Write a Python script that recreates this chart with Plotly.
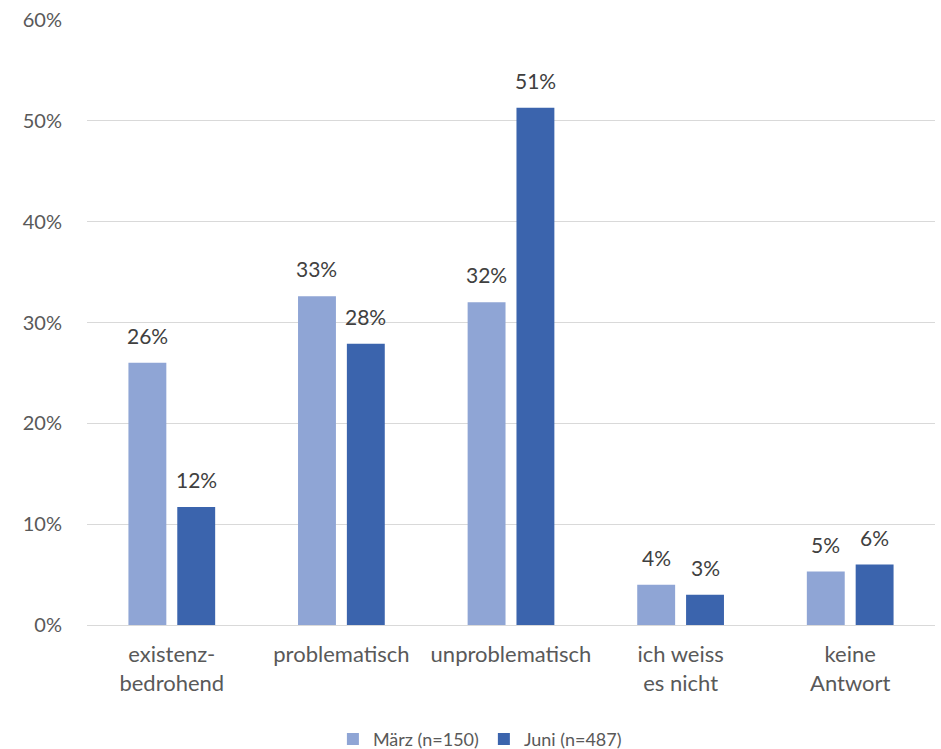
import plotly.graph_objects as go

# Survey answers, share of respondents per wave
categories = ["existenz-<br>bedrohend", "problematisch", "unproblematisch",
              "ich weiss<br>es nicht", "keine<br>Antwort"]
series_names = ["März (n=150)", "Juni (n=487)"]
maerz = [0.260, 0.326, 0.320, 0.040, 0.053]
juni = [0.117, 0.279, 0.513, 0.030, 0.060]
y_ticks = [0, 0.1, 0.2, 0.3, 0.4, 0.5, 0.6]

colors = ["#8FA5D5", "#3B64AD"]
font_family = "Lato, 'DejaVu Sans', sans-serif"

fig = go.Figure()
for name, vals, col in zip(series_names, [maerz, juni], colors):
    fig.add_trace(go.Bar(
        x=categories, y=vals, name=name,
        marker=dict(color=col, line=dict(width=0)),
    ))

# value labels above each bar, shifted to the bar's slot in the group
slot_px = 24.5
for vals, shift in [(maerz, -slot_px), (juni, slot_px)]:
    for cat, v in zip(categories, vals):
        fig.add_annotation(
            x=cat, y=v, xref="x", yref="y",
            text=f"{round(v * 100):.0f}%",
            showarrow=False, xshift=shift, yshift=13,
            yanchor="bottom", xanchor="center",
            font=dict(family=font_family, size=21, color="#404040"),
        )

fig.update_layout(
    width=941, height=749,
    margin=dict(l=87, r=6, t=19.5, b=123.5, autoexpand=False),
    paper_bgcolor="white", plot_bgcolor="white",
    barmode="group", bargap=0.424, bargroupgap=0.224,
    font=dict(family=font_family, size=21, color="#595959"),
    showlegend=True,
    legend=dict(
        orientation="h", xref="container", yref="container",
        x=0.51, xanchor="center", y=0.013, yanchor="middle",
        font=dict(family=font_family, size=18, color="#595959"),
        itemwidth=30, tracegroupgap=0,
    ),
)
fig.update_xaxes(
    showgrid=False, showline=False, zeroline=False,
    ticks="", ticklabelstandoff=14,
    tickfont=dict(family=font_family, size=22, color="#595959"),
)
fig.update_yaxes(
    range=[0, 0.6], tickvals=y_ticks, tickformat=".0%",
    showgrid=True, gridcolor="#D9D9D9", gridwidth=1,
    zeroline=True, zerolinecolor="#D9D9D9", zerolinewidth=1,
    showline=False, ticks="", ticklabelstandoff=24,
    tickfont=dict(family=font_family, size=20, color="#595959"),
)

fig.write_html("out.html")
